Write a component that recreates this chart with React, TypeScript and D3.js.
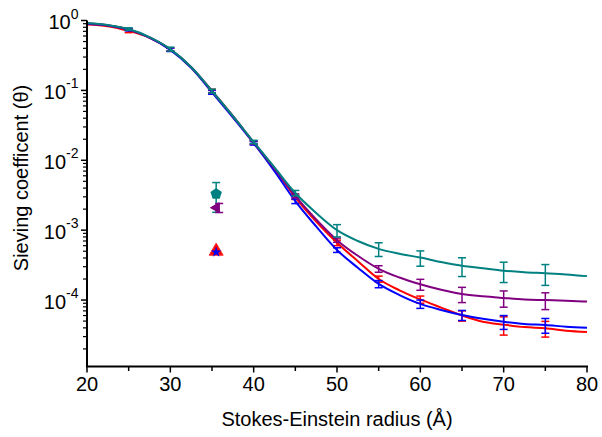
import React from "react";
import * as d3 from "d3";

const radius = [20, 22.5, 25, 27.5, 30, 32.5, 35, 37.5, 40, 42.5, 45, 47.5, 50, 52.5, 55, 57.5, 60, 62.5, 65, 67.5, 70, 72.5, 75, 77.5, 80];

const teal = [0.92, 0.86, 0.755, 0.58, 0.39, 0.216, 0.098, 0.043, 0.0183, 0.0079, 0.0034, 0.00176, 0.001, 0.0007, 0.00054, 0.00046, 0.000405, 0.00035, 0.00031, 0.000285, 0.000263, 0.00025, 0.000242, 0.000233, 0.00022];
const purple = [0.91, 0.855, 0.745, 0.575, 0.388, 0.214, 0.097, 0.0425, 0.018, 0.0076, 0.0031, 0.00142, 0.00072, 0.00043, 0.00028, 0.00021, 0.000168, 0.00014, 0.000122, 0.000113, 0.000107, 0.000102, 0.0001, 0.000098, 0.000095];
const red = [0.88, 0.83, 0.71, 0.565, 0.385, 0.215, 0.098, 0.043, 0.018, 0.0077, 0.00295, 0.00133, 0.00066, 0.00036, 0.0002, 0.000138, 0.000102, 0.000078, 0.00006, 0.000049, 0.0000445, 0.000041, 0.0000395, 0.0000365, 0.000035];
const blue = [0.9, 0.85, 0.74, 0.57, 0.38, 0.21, 0.094, 0.041, 0.0175, 0.007, 0.0026, 0.00113, 0.00052, 0.00029, 0.00017, 0.000118, 0.000088, 0.000072, 0.000061, 0.000054, 0.000049, 0.0000455, 0.000044, 0.0000415, 0.00004];

const errRadius = [25, 30, 35, 40, 45, 50, 55, 60, 65, 70, 75];
const tealSd = [0.03, 0.025, 0.006, 0.001, 0.0003, 0.0002, 0.00012, 0.0001, 0.000093, 0.000085, 0.00008];
const purpleSd = [0.02, 0.02, 0.005, 0.001, 0.0002, 0.00005, 0.00003, 0.00003, 0.00003, 0.000028, 0.000027];
const redSd = [0.04, 0.02, 0.006, 0.001, 0.0002, 0.00006, 0.00002, 0.000012, 0.00001, 0.000013, 0.00001];
const blueSd = [0.03, 0.02, 0.006, 0.001, 0.0002, 0.00004, 0.00002, 0.000012, 0.00001, 0.000011, 0.0000105];

// isolated points near 35.5 Å
const pointRadius = 35.5;
const tealPoint = 0.0033, tealPointSd = 0.0015;
const purplePoint = 0.0021, purplePointSd = 0.00031;
const redPoint = 0.0005;
const bluePoint = 0.0005;

const xTicks = [20, 30, 40, 50, 60, 70, 80];
const xMinorTicks = [25, 35, 45, 55, 65, 75];
const yExponents = [0, -1, -2, -3, -4];

const W = 602, H = 437;
const x = d3.scaleLinear().domain([20, 80]).range([87, 587]);
const y = d3.scaleLog().domain([1.12e-5, 1]).range([366.5, 20.5]);

const series = [
  { vals: red, sd: redSd, color: "#ff0000" },
  { vals: blue, sd: blueSd, color: "#0000ff" },
  { vals: purple, sd: purpleSd, color: "#800080" },
  { vals: teal, sd: tealSd, color: "#008080" },
];

const font = "Arial, 'Liberation Sans', Helvetica, sans-serif";

function pentagon(cx: number, cy: number, r: number) {
  const pts = d3.range(5).map((i) => {
    const a = -Math.PI / 2 + (i * 2 * Math.PI) / 5;
    return [cx + r * Math.cos(a), cy + r * Math.sin(a)];
  });
  return "M" + pts.map((p) => p.join(",")).join("L") + "Z";
}

export default function App() {
  const line = d3
    .line<number>()
    .x((_, i) => x(radius[i]))
    .y((d) => y(d))
    .curve(d3.curveMonotoneX);

  const yMinor: number[] = [];
  for (let e = -5; e < 0; e++) {
    for (let m = 2; m <= 9; m++) {
      const v = m * Math.pow(10, e);
      if (v >= 1.12e-5 && v < 1) yMinor.push(v);
    }
  }

  const errBar = (cx: number, mean: number, sd: number, color: string, key: string, cap = 4) => {
    const lo = Math.max(mean - sd, 1.2e-5);
    const hi = mean + sd;
    return (
      <g key={key} stroke={color} strokeWidth={1.5} fill="none">
        <line x1={cx} x2={cx} y1={y(lo)} y2={y(hi)} />
        <line x1={cx - cap} x2={cx + cap} y1={y(lo)} y2={y(lo)} />
        <line x1={cx - cap} x2={cx + cap} y1={y(hi)} y2={y(hi)} />
      </g>
    );
  };

  const px = x(pointRadius);

  return (
    <svg width={W} height={H} style={{ position: "absolute", left: 0, top: 0, background: "#fff" }} fontFamily={font}>
      {series.map((s, si) => (
        <g key={si}>
          <path d={line(s.vals) || ""} fill="none" stroke={s.color} strokeWidth={2} />
          {errRadius.map((r, i) => {
            const idx = radius.indexOf(r);
            return errBar(x(r), s.vals[idx], s.sd[i], s.color, `e${si}-${i}`);
          })}
        </g>
      ))}

      {/* isolated points */}
      {errBar(px, tealPoint, tealPointSd, "#008080", "tp")}
      {errBar(px + 3, purplePoint, purplePointSd, "#800080", "pp")}
      <path
        d={d3.symbol().type(d3.symbolTriangle).size(55)() || ""}
        transform={`translate(${px},${y(purplePoint)}) rotate(-90)`}
        fill="#800080"
      />
      <path d={pentagon(px, y(tealPoint), 6)} fill="#008080" />
      <path
        d={d3.symbol().type(d3.symbolTriangle).size(85)() || ""}
        transform={`translate(${px},${y(redPoint)})`}
        fill="#ff0000"
        stroke="#ff3030"
        strokeWidth={1}
      />
      <path
        d={d3.symbol().type(d3.symbolStar).size(36)() || ""}
        transform={`translate(${px},${y(bluePoint) + 1})`}
        fill="#0000ff"
      />

      {/* axes */}
      <g stroke="#000" fill="none">
        <line x1={87} x2={87} y1={y(1)} y2={y.range()[0]} strokeWidth={2} />
        <line x1={86} x2={588} y1={366.5} y2={366.5} strokeWidth={2} />
        {yExponents.map((e) => (
          <line key={e} x1={81} x2={87} y1={y(Math.pow(10, e))} y2={y(Math.pow(10, e))} strokeWidth={1.5} />
        ))}
        {yMinor.map((v, i) => (
          <line key={i} x1={83} x2={87} y1={y(v)} y2={y(v)} strokeWidth={1.2} />
        ))}
        {xTicks.map((t) => (
          <line key={t} x1={x(t)} x2={x(t)} y1={366.5} y2={372.5} strokeWidth={1.5} />
        ))}
        {xMinorTicks.map((t) => (
          <line key={t} x1={x(t)} x2={x(t)} y1={366.5} y2={371} strokeWidth={1.5} />
        ))}
      </g>

      <g fontSize={20} fill="#000">
        {xTicks.map((t) => (
          <text key={t} x={x(t)} y={390.5} textAnchor="middle">
            {t}
          </text>
        ))}
        {yExponents.map((e) => (
          <text key={e} x={78.5} y={y(Math.pow(10, e)) + 8.5} textAnchor="end">
            10
            <tspan fontSize={14} dy={-10.5}>
              {e === 0 ? "0" : "-" + Math.abs(e)}
            </tspan>
          </text>
        ))}
        <text x={337} y={426} textAnchor="middle">
          Stokes-Einstein radius (Å)
        </text>
        <text transform="translate(28,178) rotate(-90)" textAnchor="middle">
          Sieving coefficent (θ)
        </text>
      </g>
    </svg>
  );
}
